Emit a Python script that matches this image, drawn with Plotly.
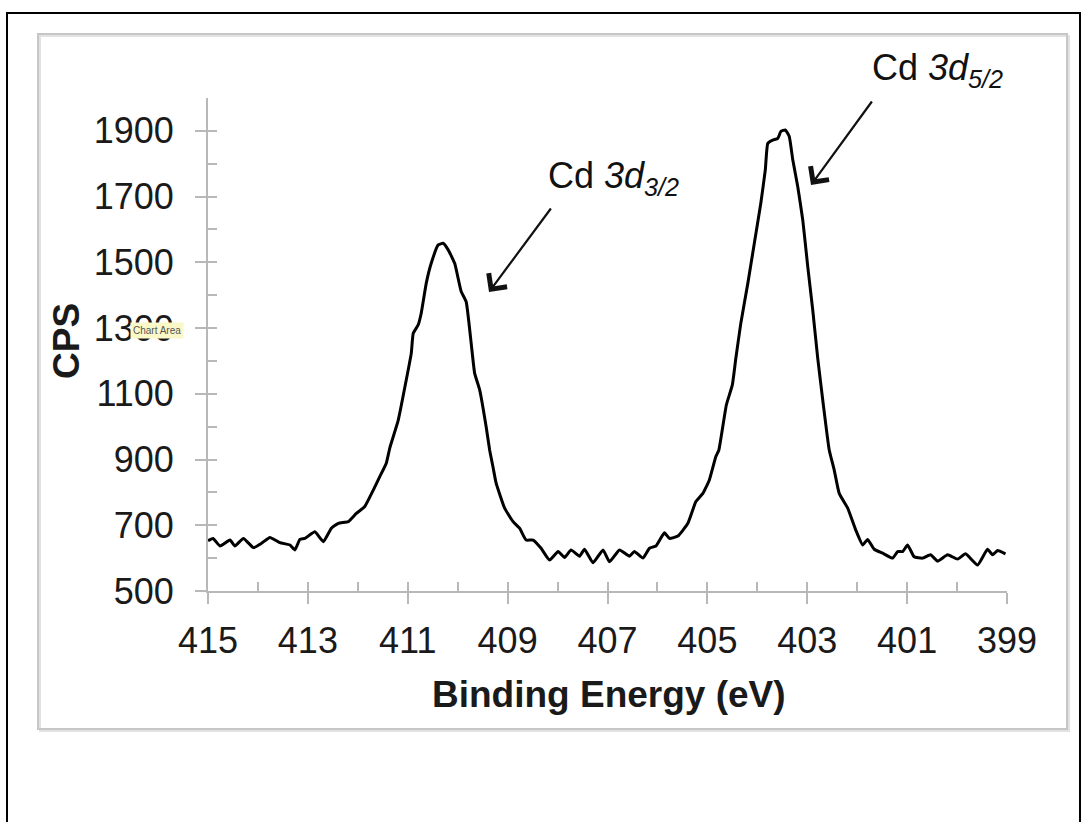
import plotly.graph_objects as go

# ---- data ----
energy = [415.00, 414.90, 414.76, 414.56, 414.46, 414.29, 414.09, 413.93, 413.76, 413.56,
          413.36, 413.26, 413.16, 413.06, 412.86, 412.69, 412.53, 412.39, 412.19, 412.03,
          411.86, 411.69, 411.56, 411.43, 411.36, 411.19, 411.03, 410.93, 410.89, 410.79,
          410.73, 410.63, 410.53, 410.39, 410.29, 410.19, 410.06, 409.93, 409.83, 409.73,
          409.66, 409.56, 409.43, 409.36, 409.29, 409.23, 409.06, 408.89, 408.76, 408.63,
          408.49, 408.33, 408.16, 407.99, 407.86, 407.73, 407.56, 407.46, 407.29, 407.09,
          406.96, 406.76, 406.56, 406.46, 406.29, 406.16, 406.03, 405.86, 405.76, 405.59,
          405.39, 405.23, 405.09, 404.96, 404.83, 404.77, 404.62, 404.50, 404.43, 404.33,
          404.19, 404.06, 403.93, 403.84, 403.79, 403.69, 403.59, 403.53, 403.44, 403.36,
          403.29, 403.19, 403.09, 402.99, 402.89, 402.79, 402.68, 402.56, 402.46, 402.36,
          402.19, 402.03, 401.89, 401.79, 401.66, 401.49, 401.29, 401.19, 401.09, 400.99,
          400.86, 400.69, 400.53, 400.39, 400.19, 399.99, 399.83, 399.59, 399.39, 399.29,
          399.19, 399.03]
cps = [653, 660, 637, 655, 637, 660, 632, 645, 663, 647,
       640, 625, 657, 660, 680, 650, 691, 706, 711, 736,
       757, 807, 848, 889, 935, 1020, 1142, 1223, 1284, 1310,
       1345, 1436, 1497, 1553, 1558, 1538, 1497, 1411, 1380, 1254,
       1162, 1112, 1000, 929, 875, 828, 752, 711, 691, 655,
       655, 630, 594, 620, 602, 625, 606, 627, 586, 625,
       589, 625, 606, 620, 600, 630, 637, 677, 660, 667,
       706, 772, 797, 838, 909, 929, 1066, 1127, 1208, 1315,
       1436, 1558, 1680, 1781, 1862, 1872, 1877, 1898, 1903, 1883,
       1812, 1730, 1629, 1487, 1355, 1208, 1069, 929, 868, 797,
       752, 686, 640, 657, 627, 615, 600, 620, 620, 640,
       604, 600, 610, 591, 610, 597, 613, 579, 627, 610,
       623, 613]

x_range = [415, 399]
y_range = [500, 2000]
x_ticks = [415, 413, 411, 409, 407, 405, 403, 401, 399]
y_ticks = [500, 700, 900, 1100, 1300, 1500, 1700, 1900]

# ---- layout geometry (pixels) ----
W, H = 1082, 822
L, R, T, B = 208, 1007, 98, 591
PW, PH = R - L, B - T


def px(xp):
    return (xp - L) / PW


def py(yp):
    return (B - yp) / PH


FONT = "Arial, Liberation Sans, sans-serif"
AXIS_GRAY = "#b8b8b8"

fig = go.Figure()
fig.add_trace(go.Scatter(x=energy, y=cps, mode="lines",
                         line=dict(color="#000000", width=3, shape="spline", smoothing=0.4),
                         hoverinfo="skip", showlegend=False))

fig.update_layout(
    width=W, height=H,
    margin=dict(l=L, r=W - R, t=T, b=H - B, pad=0),
    paper_bgcolor="white", plot_bgcolor="white",
    showlegend=False,
    font=dict(family=FONT, color="#1a1a1a"),
    xaxis=dict(range=x_range, tickmode="array", tickvals=x_ticks, ticktext=[str(v) for v in x_ticks],
               ticks="outside", ticklen=11, tickwidth=2, tickcolor=AXIS_GRAY,
               showline=True, linecolor=AXIS_GRAY, linewidth=2, showgrid=False, zeroline=False,
               tickfont=dict(size=36, family=FONT, color="#1a1a1a"), ticklabelstandoff=6),
    yaxis=dict(range=y_range, tickmode="array", tickvals=y_ticks, ticktext=[str(v) for v in y_ticks],
               ticks="outside", ticklen=11, tickwidth=2, tickcolor=AXIS_GRAY,
               showline=True, linecolor=AXIS_GRAY, linewidth=2, showgrid=False, zeroline=False,
               tickfont=dict(size=36, family=FONT, color="#1a1a1a"), ticklabelstandoff=14),
    xaxis2=dict(overlaying="x", anchor="y", side="bottom", range=x_range, dtick=1, tick0=399,
                ticks="inside", ticklen=9, tickwidth=2, tickcolor=AXIS_GRAY,
                showticklabels=False, showline=False, showgrid=False, zeroline=False),
    yaxis2=dict(overlaying="y", anchor="x", side="left", range=y_range, dtick=100, tick0=500,
                ticks="inside", ticklen=9, tickwidth=2, tickcolor=AXIS_GRAY,
                showticklabels=False, showline=False, showgrid=False, zeroline=False),
)
# empty traces so the overlay tick axes are drawn
fig.add_trace(go.Scatter(x=[], y=[], xaxis="x2", yaxis="y2", showlegend=False, hoverinfo="skip"))

shapes = [
    # chart-area shadow and border
    dict(type="rect", xref="paper", yref="paper", x0=px(40), x1=px(1069), y0=py(36), y1=py(731),
         line=dict(color="#e2e2e2", width=2), layer="below"),
    dict(type="rect", xref="paper", yref="paper", x0=px(38), x1=px(1067), y0=py(34), y1=py(729),
         line=dict(color="#c6c6c6", width=2), layer="below"),
    # outer black frame
    dict(type="rect", xref="paper", yref="paper", x0=px(7), x1=px(1080), y0=py(13), y1=py(840),
         line=dict(color="#000000", width=2), layer="below"),
]
fig.update_layout(shapes=shapes)

ann = []
# axis titles
ann.append(dict(xref="paper", yref="paper", x=px(609), y=py(694), text="<b>Binding Energy (eV)</b>",
                showarrow=False, xanchor="center", yanchor="middle",
                font=dict(size=37, family=FONT, color="#1a1a1a")))
ann.append(dict(xref="paper", yref="paper", x=px(66), y=py(341), text="<b>CPS</b>", textangle=-90,
                showarrow=False, xanchor="center", yanchor="middle",
                font=dict(size=37, family=FONT, color="#1a1a1a")))
# peak labels
ann.append(dict(xref="paper", yref="paper", x=px(546), y=py(178),
                text="Cd <i>3d</i><sub><i>3/2</i></sub>", showarrow=False,
                xanchor="left", yanchor="middle", font=dict(size=36, family=FONT, color="#111111")))
ann.append(dict(xref="paper", yref="paper", x=px(870), y=py(70),
                text="Cd <i>3d</i><sub><i>5/2</i></sub>", showarrow=False,
                xanchor="left", yanchor="middle", font=dict(size=36, family=FONT, color="#111111")))
# arrows
ann.append(dict(xref="paper", yref="paper", x=px(489), y=py(292), ax=63, ay=-85, text="",
                showarrow=True, arrowhead=4, arrowsize=2.0, arrowwidth=2.2, arrowcolor="#111111"))
ann.append(dict(xref="paper", yref="paper", x=px(811), y=py(185), ax=62, ay=-85, text="",
                showarrow=True, arrowhead=4, arrowsize=2.0, arrowwidth=2.2, arrowcolor="#111111"))
# leftover tooltip seen in the screenshot
ann.append(dict(xref="paper", yref="paper", x=px(157), y=py(330), text="Chart Area",
                showarrow=False, xanchor="center", yanchor="middle",
                bgcolor="#fbf8c8", borderpad=2, font=dict(size=10, family=FONT, color="#555555")))
fig.update_layout(annotations=ann)

fig.write_html("out.html", config={"displayModeBar": False},
               post_script="document.body.style.margin='0px';")
